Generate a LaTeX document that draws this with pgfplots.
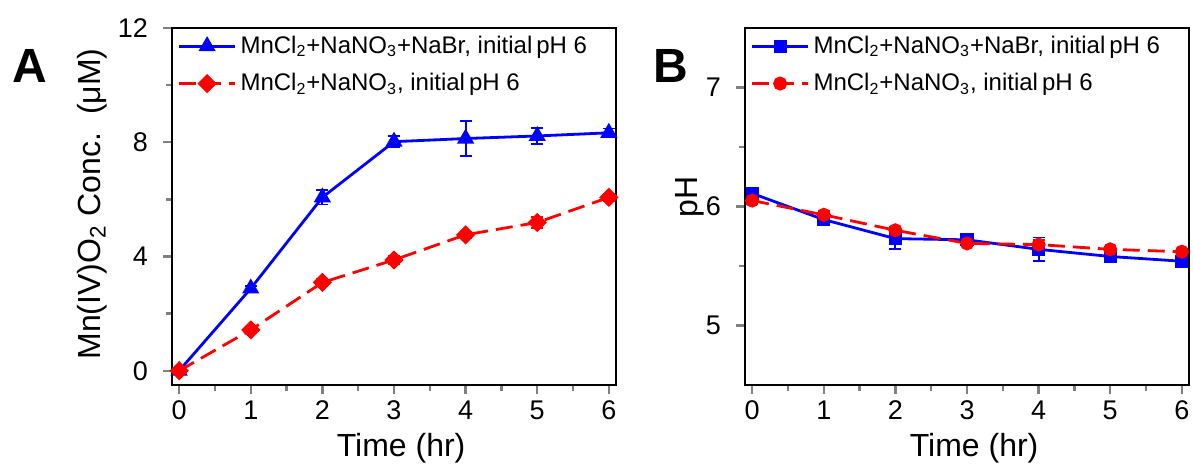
\documentclass[border=0pt]{standalone}
\usepackage{fontspec}
\setmainfont{Liberation Sans}
\usepackage{pgfplots}
\pgfplotsset{compat=1.18}
\usepackage{pgfplotstable}

% Mn(IV)O2 concentration (uM) vs time (hr)
\pgfplotstableread{
x   y     e
0   0.00  0.05
1   2.88  0.10
2   6.07  0.25
3   8.02  0.20
4   8.13  0.60
5   8.22  0.27
6   8.33  0.15
}\concBr
\pgfplotstableread{
x   y     e
0   0.00  0.05
1   1.43  0.12
2   3.09  0.12
3   3.88  0.15
4   4.76  0.10
5   5.19  0.20
6   6.07  0.12
}\concNo
% pH vs time (hr)
\pgfplotstableread{
x   y     e
0   6.11  0.02
1   5.89  0.03
2   5.73  0.09
3   5.72  0.04
4   5.64  0.10
5   5.58  0.02
6   5.54  0.03
}\phBr
\pgfplotstableread{
x   y     e
0   6.05  0.03
1   5.93  0.03
2   5.80  0.03
3   5.69  0.02
4   5.68  0.04
5   5.64  0.02
6   5.62  0.02
}\phNo

\definecolor{cblue}{RGB}{0,0,255}
\definecolor{cred}{RGB}{255,0,0}

\pgfplotsset{
  panel/.style={
    scale only axis, width=222pt, height=178.5pt,
    xmin=-0.1, xmax=6.1, xtick={0,...,6},
    minor x tick num=1, minor y tick num=1,
    tick align=outside, tick pos=left,
    axis line style={line width=1.2pt},
    tick style={line width=1.2pt},
    major tick length=4.5pt, minor tick length=3pt,
    /pgf/number format/assume math mode=true,
    tick label style={font=\fontsize{13.5}{14}\selectfont},
    yticklabel style={xshift=-4pt},
    label style={font=\fontsize{16}{18}\selectfont},
    xlabel={Time (hr)},
    xlabel style={at={(axis description cs:0.516,-0.2)}, anchor=base},
    legend cell align=left,
    legend style={draw=none, fill=none, anchor=north west,
      font=\fontsize{12}{13}\selectfont, row sep=4.5pt, inner sep=0pt},
    legend image code/.code={
      \draw[mark repeat=2, mark phase=2]
        plot coordinates {(0pt,0pt) (14pt,0pt) (28pt,0pt)};},
  },
  eb/.style={
    error bars/y dir=both, error bars/y explicit,
    error bars/error bar style={#1, line width=0.9pt, solid},
    error bars/error mark options={rotate=90, mark size=3pt, #1, line width=0.9pt}},
}

\begin{document}
\begin{tikzpicture}
\path[use as bounding box] (0,0) rectangle (596.5pt,236pt);

\begin{axis}[panel, at={(86pt,43.5pt)}, anchor=south west,
  ymin=-0.5, ymax=12, ytick={0,4,8,12},
  ylabel={Mn(IV)O\textsubscript{2} Conc.\ \ (μM)},
  ylabel style={at={(axis description cs:-0.18,0.507)}, anchor=center},
  legend style={at={(axis description cs:0.012,0.99)}},
]
\addplot[cblue, line width=1.4pt, solid, eb=cblue,
  mark=triangle*, mark size=3.6pt, mark options={solid}]
  table[x=x, y=y, y error=e] {\concBr};
\addlegendentry{MnCl\textsubscript{2}+NaNO\textsubscript{3}+NaBr, initial\,pH 6}
\addplot[cred, line width=1.4pt, dash pattern=on 8.5pt off 4pt, eb=cred,
  mark=square*, mark size=2.7pt, mark options={solid, rotate=45}]
  table[x=x, y=y, y error=e] {\concNo};
\addlegendentry{MnCl\textsubscript{2}+NaNO\textsubscript{3}, initial\,pH 6}
\end{axis}

\begin{axis}[panel, at={(372.5pt,43.5pt)}, anchor=south west,
  ymin=4.5, ymax=7.5, ytick={5,6,7},
  ylabel={pH},
  ylabel style={at={(axis description cs:-0.124,0.527)}, anchor=center},
  legend style={at={(axis description cs:0.012,0.99)}},
]
\addplot[cblue, line width=1.4pt, solid, eb=cblue,
  mark=square*, mark size=2.6pt, mark options={solid}]
  table[x=x, y=y, y error=e] {\phBr};
\addlegendentry{MnCl\textsubscript{2}+NaNO\textsubscript{3}+NaBr, initial\,pH 6}
\addplot[cred, line width=1.4pt, dash pattern=on 8.5pt off 4pt, eb=cred,
  mark=*, mark size=2.8pt, mark options={solid}]
  table[x=x, y=y, y error=e] {\phNo};
\addlegendentry{MnCl\textsubscript{2}+NaNO\textsubscript{3}, initial\,pH 6}
\end{axis}

\node[anchor=base west, inner sep=0pt, font=\bfseries\fontsize{24}{24}\selectfont]
  at (6pt,194.5pt) {A};
\node[anchor=base west, inner sep=0pt, font=\bfseries\fontsize{24}{24}\selectfont]
  at (326.5pt,194.5pt) {B};
\end{tikzpicture}
\end{document}
